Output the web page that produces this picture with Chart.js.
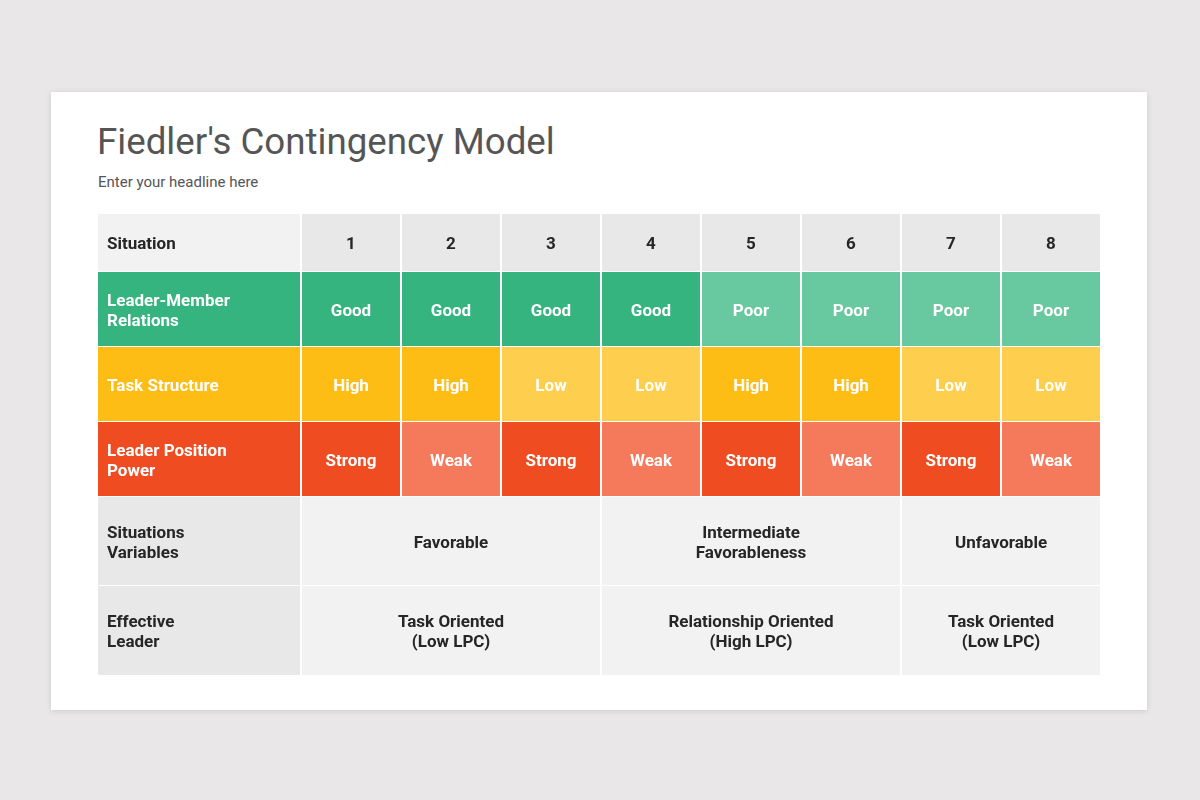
<!DOCTYPE html>
<html>
<head>
<meta charset="utf-8">
<title>Fiedler's Contingency Model</title>
<script src="https://cdn.jsdelivr.net/npm/chart.js@4.4.1/dist/chart.umd.min.js"></script>
<style>
    html, body {
        margin: 0;
        padding: 0;
        width: 1200px;
        height: 800px;
        background: #e9e7e8;
        font-family: Roboto, "Noto Sans", sans-serif;
        overflow: hidden;
    }
    .card {
        position: absolute;
        left: 51px;
        top: 92px;
        width: 1096px;
        height: 618px;
        background: #ffffff;
        box-shadow: 0 1px 6px rgba(0, 0, 0, 0.12);
    }
    .title {
        position: absolute;
        left: 97px;
        top: 123px;
        font-size: 36.7px;
        line-height: 37px;
        color: #555555;
        white-space: nowrap;
    }
    .subtitle {
        position: absolute;
        left: 98px;
        top: 175px;
        font-size: 15px;
        line-height: 15px;
        color: #555555;
        white-space: nowrap;
    }
    .table-wrap {
        position: absolute;
        left: 97px;
        top: 214px;
        width: 1004px;
        height: 462px;
    }
</style>
</head>
<body>
<div class="card"></div>
<div class="title">Fiedler's Contingency Model</div>
<div class="subtitle">Enter your headline here</div>
<div class="table-wrap"><canvas id="fiedlerChart"></canvas></div>

<script>
// table content
const situations = ["1", "2", "3", "4", "5", "6", "7", "8"];
const rowLabels = [
    "Situation",
    "Leader-Member\nRelations",
    "Task Structure",
    "Leader Position\nPower",
    "Situations\nVariables",
    "Effective\nLeader",
];
const leaderMember = ["Good", "Good", "Good", "Good", "Poor", "Poor", "Poor", "Poor"];
const taskStructure = ["High", "High", "Low", "Low", "High", "High", "Low", "Low"];
const positionPower = ["Strong", "Weak", "Strong", "Weak", "Strong", "Weak", "Strong", "Weak"];
const favorability = [
    "Favorable", "Favorable", "Favorable",
    "Intermediate\nFavorableness", "Intermediate\nFavorableness", "Intermediate\nFavorableness",
    "Unfavorable", "Unfavorable",
];
const effectiveLeader = [
    "Task Oriented\n(Low LPC)", "Task Oriented\n(Low LPC)", "Task Oriented\n(Low LPC)",
    "Relationship Oriented\n(High LPC)", "Relationship Oriented\n(High LPC)", "Relationship Oriented\n(High LPC)",
    "Task Oriented\n(Low LPC)", "Task Oriented\n(Low LPC)",
];

// layout / styling
const ROW_HEIGHTS = [58, 75, 75, 75, 89, 90];
const VALUE_COLORS = {
    Good: "#35b47f",
    Poor: "#68c9a0",
    High: "#fdbd14",
    Low: "#fecf4e",
    Strong: "#f04c22",
    Weak: "#f47a5b",
};
const LABEL_COLORS = ["#f2f2f2", "#35b47f", "#fdbd14", "#f04c22", "#e8e8e8", "#e8e8e8"];
const DARK_TEXT = "#262626";

const rows = [
    { cells: situations, bg: () => "#e8e8e8", color: DARK_TEXT, merged: false },
    { cells: leaderMember, bg: (v) => VALUE_COLORS[v], color: "#ffffff", merged: false },
    { cells: taskStructure, bg: (v) => VALUE_COLORS[v], color: "#ffffff", merged: false },
    { cells: positionPower, bg: (v) => VALUE_COLORS[v], color: "#ffffff", merged: false },
    { cells: favorability, bg: () => "#f2f2f2", color: DARK_TEXT, merged: true },
    { cells: effectiveLeader, bg: () => "#f2f2f2", color: DARK_TEXT, merged: true },
];

// consecutive equal values become one merged cell
function buildGroups(values, merged) {
    const groups = [];
    values.forEach((v, i) => {
        const last = groups[groups.length - 1];
        if (merged && last && last.text === v) {
            last.to = i;
        } else {
            groups.push({ from: i, to: i, text: v });
        }
    });
    return groups;
}

const datasets = [];

// first column (row titles)
rowLabels.forEach((label, r) => {
    datasets.push({
        label: label,
        xAxisID: "xLab",
        stack: "table",
        data: [ROW_HEIGHTS[r]],
        backgroundColor: LABEL_COLORS[r],
        borderColor: "#ffffff",
        borderWidth: 1,
        inflateAmount: 0,
        groups: [{ from: 0, to: 0, text: label }],
        textAlign: "left",
        textColor: r >= 1 && r <= 3 ? "#ffffff" : DARK_TEXT,
    });
});

// situation columns
rows.forEach((row, r) => {
    const groups = buildGroups(row.cells, row.merged);
    const starts = new Set(groups.map((g) => g.from));
    const ends = new Set(groups.map((g) => g.to));
    datasets.push({
        label: rowLabels[r],
        xAxisID: "x",
        stack: "table",
        data: row.cells.map(() => ROW_HEIGHTS[r]),
        backgroundColor: row.cells.map((v) => row.bg(v)),
        borderColor: "#ffffff",
        borderWidth: (c) => ({
            top: 1,
            bottom: 1,
            left: starts.has(c.dataIndex) ? 1 : 0,
            right: ends.has(c.dataIndex) ? 1 : 0,
        }),
        inflateAmount: 0,
        groups: groups,
        textAlign: "center",
        textColor: row.color,
    });
});

const cellTextPlugin = {
    id: "cellText",
    afterDatasetsDraw(chart) {
        const ctx = chart.ctx;
        const fontSize = 17;
        const lineHeight = 20;
        const capHalf = fontSize * 0.711 / 2; // centre the capitals in the cell
        ctx.save();
        ctx.font = "bold " + fontSize + "px Roboto";
        ctx.textBaseline = "alphabetic";
        chart.data.datasets.forEach((ds, di) => {
            const meta = chart.getDatasetMeta(di);
            ds.groups.forEach((g) => {
                const first = meta.data[g.from];
                const last = meta.data[g.to];
                const left = first.x - first.width / 2;
                const right = last.x + last.width / 2;
                const cy = first.getCenterPoint().y;
                const lines = g.text.split("\n");
                ctx.fillStyle = ds.textColor;
                let tx;
                if (ds.textAlign === "left") {
                    ctx.textAlign = "left";
                    tx = left + 10;
                } else {
                    ctx.textAlign = "center";
                    tx = (left + right) / 2;
                }
                lines.forEach((line, li) => {
                    const ty = cy + capHalf + (li - (lines.length - 1) / 2) * lineHeight;
                    ctx.fillText(line, tx, ty);
                });
            });
        });
        ctx.restore();
    },
};

const ctx = document.getElementById("fiedlerChart").getContext("2d");
const fiedlerChart = new Chart(ctx, {
    type: "bar",
    data: {
        labels: situations,
        datasets: datasets,
    },
    options: {
        responsive: true,
        maintainAspectRatio: false,
        animation: false,
        events: [],
        grouped: false,
        barPercentage: 1,
        categoryPercentage: 1,
        layout: { padding: 0 },
        plugins: {
            legend: { display: false },
            tooltip: { enabled: false },
            title: { display: false },
        },
        scales: {
            // first column and the eight situation columns share the width
            xLab: {
                type: "category",
                labels: ["label"],
                position: "bottom",
                stack: "columns",
                stackWeight: 204,
                weight: 0,
                stacked: true,
                display: false,
            },
            x: {
                type: "category",
                labels: situations,
                position: "bottom",
                stack: "columns",
                stackWeight: 800,
                weight: 1,
                stacked: true,
                display: false,
            },
            y: {
                stacked: true,
                reverse: true,
                min: 0,
                max: ROW_HEIGHTS.reduce((a, b) => a + b, 0),
                display: false,
            },
        },
    },
    plugins: [cellTextPlugin],
});
</script>
</body>
</html>
